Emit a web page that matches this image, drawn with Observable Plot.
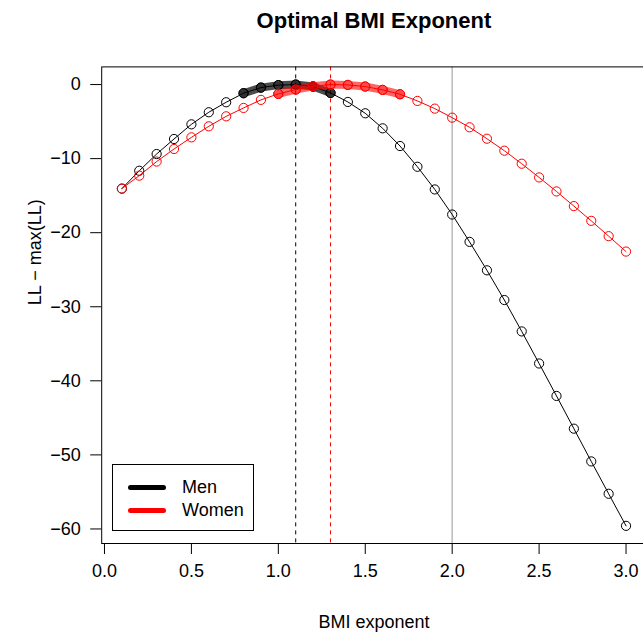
<!DOCTYPE html>
<html>
<head>
<meta charset="utf-8">
<script src="https://cdn.jsdelivr.net/npm/d3@7"></script>
<script src="https://cdn.jsdelivr.net/npm/@observablehq/plot@0.6"></script>
<style>
  html, body { margin: 0; padding: 0; background: #fff; overflow: hidden; }
  #wrap { position: relative; width: 643px; height: 637px; overflow: hidden; font-family: "Liberation Sans", Arial, Helvetica, sans-serif; }
  #wrap svg { max-width: none !important; }
  #legend { position: absolute; left: 112px; top: 464px; width: 142px; height: 67px; border: 1px solid #000; background: #fff; box-sizing: border-box; }
  .lg-row { position: absolute; left: 0; height: 22px; width: 100%; }
  .lg-line { position: absolute; left: 15px; width: 38px; height: 5px; border-radius: 3px; top: 9px; }
  .lg-text { position: absolute; left: 69px; top: 0; font-size: 18px; line-height: 22px; color: #000; }
</style>
</head>
<body>
<div id="wrap"></div>
<script>
// ---- data ----
const exponents = [0.1,0.2,0.3,0.4,0.5,0.6,0.7,0.8,0.9,1.0,1.1,1.2,1.3,1.4,1.5,1.6,1.7,1.8,1.9,2.0,2.1,2.2,2.3,2.4,2.5,2.6,2.7,2.8,2.9,3.0];
const menLL = [-14.05,-11.64,-9.38,-7.35,-5.37,-3.74,-2.39,-1.17,-0.41,-0.08,0,-0.27,-1.13,-2.35,-3.88,-5.91,-8.30,-11.10,-14.16,-17.55,-21.24,-25.08,-29.09,-33.33,-37.66,-42.04,-46.46,-50.88,-55.25,-59.58];
const womenLL = [-14.05,-12.30,-10.40,-8.70,-7.13,-5.64,-4.29,-3.16,-2.07,-1.26,-0.68,-0.23,0,-0.05,-0.27,-0.72,-1.31,-2.21,-3.25,-4.47,-5.77,-7.31,-8.93,-10.69,-12.54,-14.43,-16.41,-18.40,-20.47,-22.55];
const menOptimum = 1.1;
const womenOptimum = 1.3;
const referenceExponent = 2.0;
const ciDrop = -1.92;   // points within this of the max are highlighted
const xTicks = [0, 0.5, 1.0, 1.5, 2.0, 2.5, 3.0];
const yTicks = [0, -10, -20, -30, -40, -50, -60];
const seriesNames = ["Men", "Women"];
const seriesColors = ["#000000", "#ff0000"];

const men = exponents.map((x, i) => ({x, y: menLL[i]}));
const women = exponents.map((x, i) => ({x, y: womenLL[i]}));
const menCI = men.filter(d => d.y >= ciDrop);
const womenCI = women.filter(d => d.y >= ciDrop);

// R-style 4% axis expansion
const xr = d3.extent(exponents), yr = d3.extent(menLL.concat(womenLL));
const xpad = (xr[1] - xr[0]) * 0.04, ypad = (yr[1] - yr[0]) * 0.04;

const font = "Liberation Sans, Arial, Helvetica, sans-serif";
const R = 4.6;

const chart = Plot.plot({
  width: 647,
  height: 637,
  marginLeft: 101.2,
  marginRight: 1.3,
  marginTop: 66.4,
  marginBottom: 94,
  style: {fontSize: "18px", fontFamily: font, background: "#fff", color: "#000", maxWidth: "none"},
  x: {domain: [xr[0] - xpad, xr[1] + xpad]},
  y: {domain: [yr[0] - ypad, yr[1] + ypad]},
  marks: [
    Plot.ruleX([referenceExponent], {stroke: "#bebebe", strokeWidth: 1.6}),
    Plot.ruleX([menOptimum], {stroke: seriesColors[0], strokeDasharray: "4,4", strokeWidth: 1}),
    Plot.ruleX([womenOptimum], {stroke: seriesColors[1], strokeDasharray: "4,4", strokeWidth: 1}),
    // men
    Plot.line(men, {x: "x", y: "y", stroke: seriesColors[0], strokeWidth: 1}),
    Plot.dot(men, {x: "x", y: "y", r: R, fill: "none", stroke: seriesColors[0], strokeWidth: 1}),
    Plot.line(menCI, {x: "x", y: "y", stroke: seriesColors[0], strokeWidth: 8, strokeOpacity: 0.7, strokeLinecap: "round"}),
    Plot.dot(menCI, {x: "x", y: "y", r: R, fill: seriesColors[0], fillOpacity: 0.35, stroke: seriesColors[0], strokeWidth: 1}),
    // women
    Plot.line(women, {x: "x", y: "y", stroke: seriesColors[1], strokeWidth: 1}),
    Plot.dot(women, {x: "x", y: "y", r: R, fill: "none", stroke: seriesColors[1], strokeWidth: 1}),
    Plot.line(womenCI, {x: "x", y: "y", stroke: seriesColors[1], strokeWidth: 8, strokeOpacity: 0.6, strokeLinecap: "round"}),
    Plot.dot(womenCI, {x: "x", y: "y", r: R, fill: seriesColors[1], fillOpacity: 0.25, stroke: seriesColors[1], strokeWidth: 1}),
    Plot.frame({stroke: "#000", strokeWidth: 1}),
    Plot.axisX({ticks: xTicks, tickFormat: d3.format(".1f"), tickSize: 11, tickPadding: 10, label: null, fontSize: 18}),
    Plot.axisY({ticks: yTicks, tickSize: 11, tickPadding: 10, label: null, fontSize: 18}),
    Plot.text(["BMI exponent"], {frameAnchor: "bottom", lineAnchor: "middle", dy: 79, text: d => d, fontSize: 18, fill: "#000"}),
    Plot.text(["LL \u2212 max(LL)"], {frameAnchor: "left", lineAnchor: "middle", dx: -66, rotate: -90, text: d => d, fontSize: 18, fill: "#000"}),
    Plot.text(["Optimal BMI Exponent"], {frameAnchor: "top", lineAnchor: "middle", dy: -46, text: d => d, fontSize: 22, fontWeight: "bold", fill: "#000"})
  ]
});
chart.style.maxWidth = "none";

const wrap = document.getElementById("wrap");
wrap.appendChild(chart);

// legend (HTML overlay)
const legend = document.createElement("div");
legend.id = "legend";
seriesNames.forEach((name, i) => {
  const row = document.createElement("div");
  row.className = "lg-row";
  row.style.top = (11 + i * 23) + "px";
  const ln = document.createElement("div");
  ln.className = "lg-line";
  ln.style.background = seriesColors[i];
  const tx = document.createElement("div");
  tx.className = "lg-text";
  tx.textContent = name;
  row.appendChild(ln);
  row.appendChild(tx);
  legend.appendChild(row);
});
wrap.appendChild(legend);
</script>
</body>
</html>
